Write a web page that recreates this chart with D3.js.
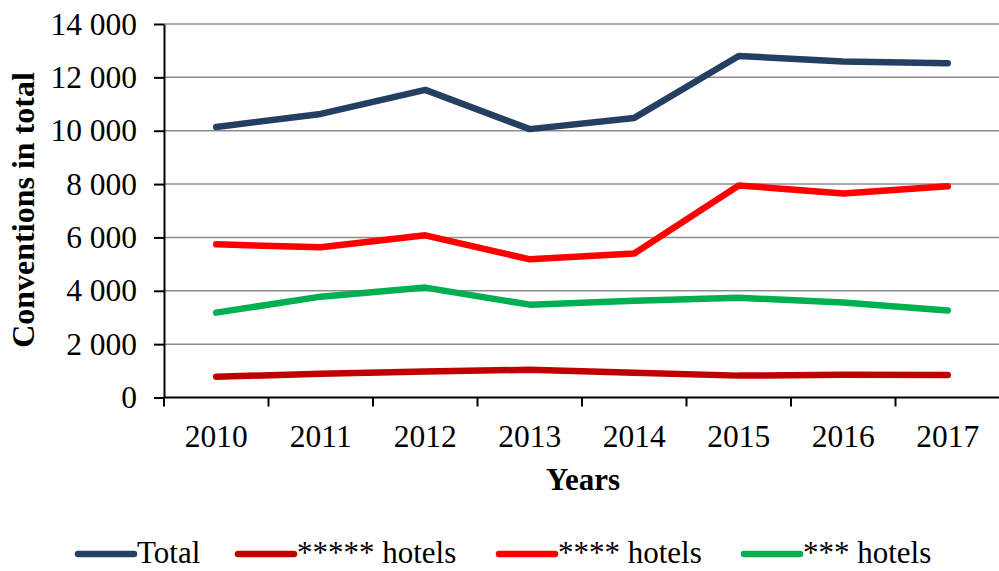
<!DOCTYPE html>
<html lang="en">
<head>
  <meta charset="UTF-8" />
  <title>Conventions in total</title>
  <style>
    body { margin: 0; background: white; }
    svg { display: block; font-family: 'Liberation Serif', 'Times New Roman', serif; }
    .grid line { stroke: #8c8c8c; stroke-width: 1.5; }
    .axis path, .axis line { stroke: black; stroke-width: 2; }
    .axis text { font-family: 'Liberation Serif', 'Times New Roman', serif; font-size: 31.5px; fill: black; }
  </style>
  <script src="https://d3js.org/d3.v7.min.js"></script>
</head>
<body>
  <div id="chart"></div>
  <script>
    const years = ["2010", "2011", "2012", "2013", "2014", "2015", "2016", "2017"];
    const total = [10140, 10630, 11530, 10060, 10480, 12800, 12590, 12530];
    const fiveStar = [780, 890, 970, 1040, 930, 820, 850, 840];
    const fourStar = [5740, 5630, 6080, 5180, 5400, 7950, 7650, 7920];
    const threeStar = [3180, 3780, 4120, 3480, 3630, 3740, 3560, 3260];
    const yTicks = [0, 2000, 4000, 6000, 8000, 10000, 12000, 14000];

    const series = [
      { name: "Total", values: total, color: "#243f62" },
      { name: "***** hotels", values: fiveStar, color: "#c00000" },
      { name: "**** hotels", values: fourStar, color: "#ff0000" },
      { name: "*** hotels", values: threeStar, color: "#00b050" }
    ];

    const width = 999;
    const height = 571;
    const margin = { top: 24, right: 0, bottom: 174, left: 164 };

    const svg = d3.select("#chart").append("svg")
      .attr("width", width)
      .attr("height", height);

    const x = d3.scaleBand()
      .domain(years)
      .range([margin.left, margin.left + 8 * 104.5]);

    const y = d3.scaleLinear()
      .domain([0, 14000])
      .range([height - margin.bottom + 0.5, margin.top]);

    const fmt = d3.formatLocale({ decimal: ".", thousands: " ", grouping: [3], currency: ["", ""] }).format(",");

    // gridlines
    svg.append("g")
      .attr("class", "grid")
      .selectAll("line")
      .data(yTicks.slice(1))
      .enter().append("line")
      .attr("x1", margin.left)
      .attr("x2", width)
      .attr("y1", d => y(d))
      .attr("y2", d => y(d));

    // y axis
    svg.append("g")
      .attr("class", "axis")
      .attr("transform", `translate(${margin.left},0)`)
      .call(d3.axisLeft(y).tickValues(yTicks).tickFormat(fmt).tickSize(10).tickSizeOuter(0).tickPadding(17));

    // x axis with ticks at band boundaries
    const xAxis = svg.append("g")
      .attr("class", "axis")
      .attr("transform", `translate(0,${y(0)})`);
    xAxis.append("line")
      .attr("x1", margin.left)
      .attr("x2", width)
      .attr("y1", 0)
      .attr("y2", 0);
    xAxis.selectAll("line.tick")
      .data(years)
      .enter().append("line")
      .attr("class", "tick")
      .attr("x1", d => x(d))
      .attr("x2", d => x(d))
      .attr("y1", 0)
      .attr("y2", 9);
    xAxis.selectAll("text")
      .data(years)
      .enter().append("text")
      .attr("x", d => x(d) + x.bandwidth() / 2)
      .attr("y", 49)
      .attr("text-anchor", "middle")
      .text(d => d);

    // lines
    const line = d3.line()
      .x((d, i) => x(years[i]) + x.bandwidth() / 2)
      .y(d => y(d));

    svg.append("g")
      .selectAll("path")
      .data(series.slice().reverse())
      .enter().append("path")
      .attr("d", d => line(d.values))
      .attr("fill", "none")
      .attr("stroke", d => d.color)
      .attr("stroke-width", 6.5)
      .attr("stroke-linecap", "round")
      .attr("stroke-linejoin", "round");

    // axis titles
    svg.append("text")
      .attr("transform", "translate(34,210) rotate(-90)")
      .attr("text-anchor", "middle")
      .attr("font-size", 32)
      .attr("font-weight", "bold")
      .text("Conventions in total");

    svg.append("text")
      .attr("x", 583)
      .attr("y", 490)
      .attr("text-anchor", "middle")
      .attr("font-size", 31)
      .attr("font-weight", "bold")
      .text("Years");

    // legend
    const legendX = [78, 238, 499, 744];
    const legend = svg.append("g")
      .selectAll("g")
      .data(series)
      .enter().append("g")
      .attr("transform", (d, i) => `translate(${legendX[i]},554)`);
    legend.append("line")
      .attr("x1", 0)
      .attr("x2", 56)
      .attr("stroke", d => d.color)
      .attr("stroke-width", 6.5)
      .attr("stroke-linecap", "round");
    legend.append("text")
      .attr("x", 59)
      .attr("y", 9)
      .attr("font-size", 31)
      .text(d => d.name);
  </script>
</body>
</html>
